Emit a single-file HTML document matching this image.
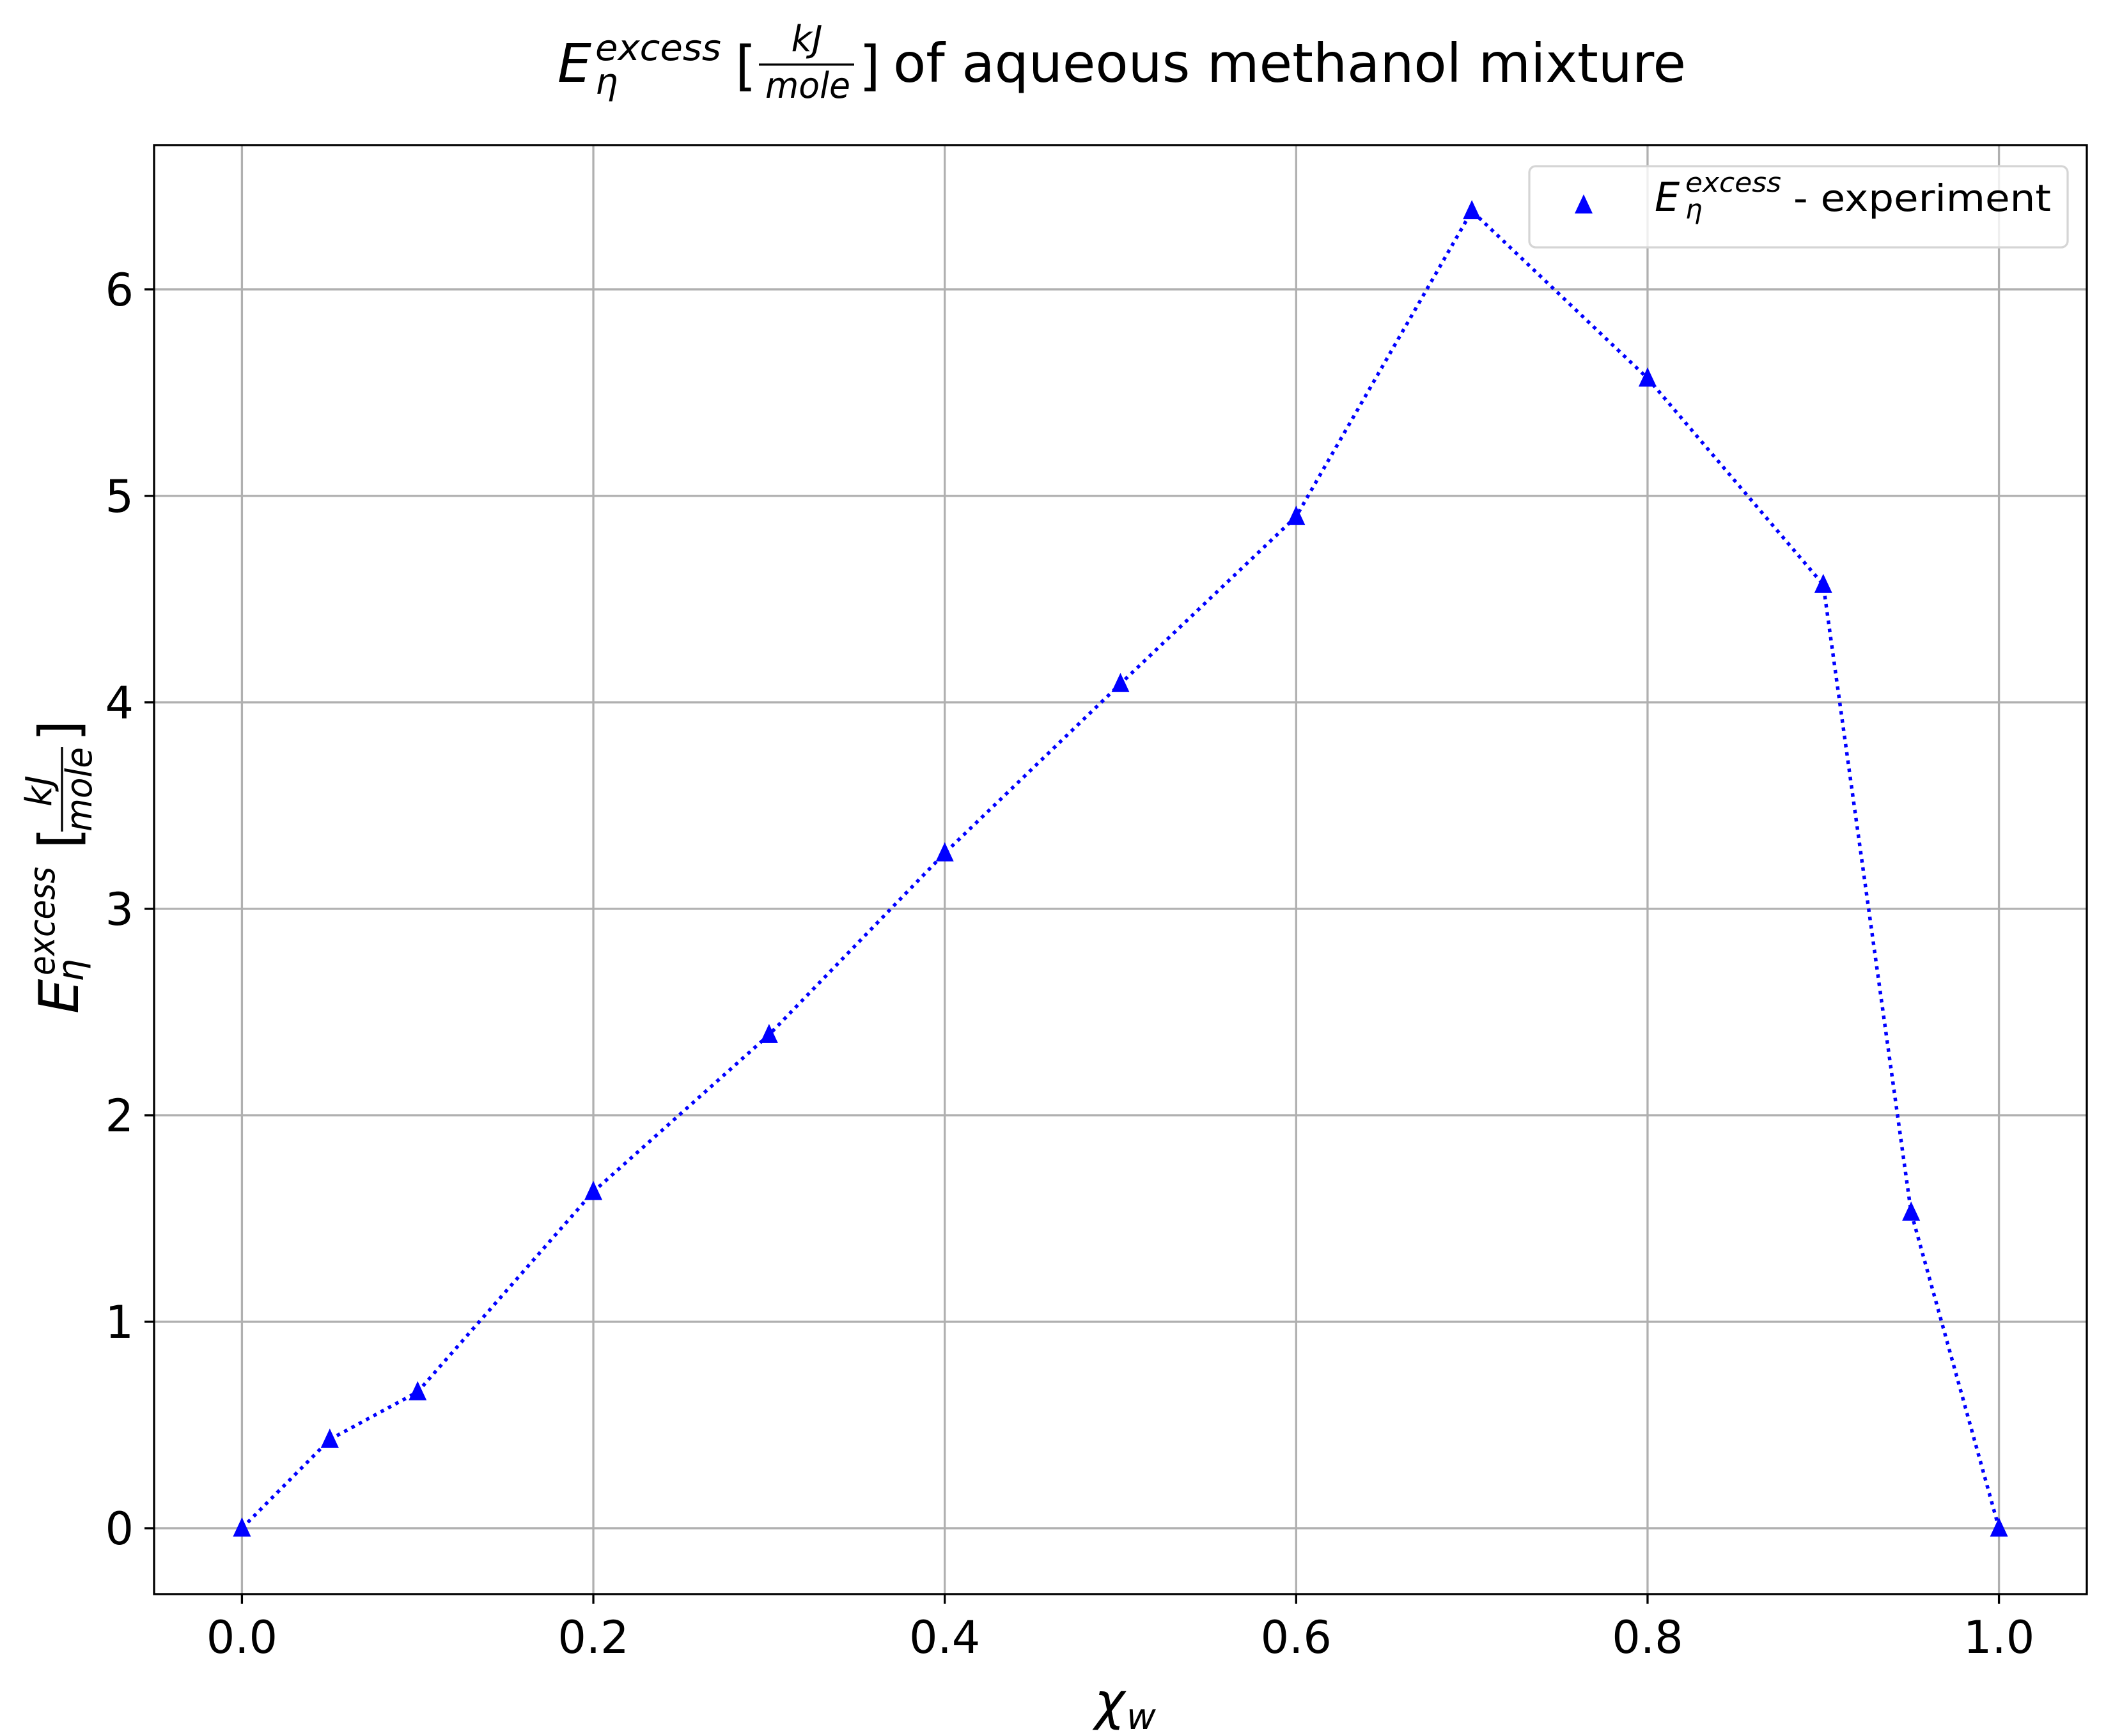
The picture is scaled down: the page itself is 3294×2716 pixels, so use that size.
<!DOCTYPE html>
<html><head><meta charset="utf-8"><style>
html,body{margin:0;padding:0;background:#fff;}
svg{display:block;font-family:"DejaVu Sans","Liberation Sans",sans-serif;}
</style></head><body>
<svg id="chart" width="3294" height="2716" viewBox="0 0 3294 2716" xmlns="http://www.w3.org/2000/svg">
<rect x="0" y="0" width="3294" height="2716" fill="#fff"/>
<g id="grid"></g>
<g id="series"></g>
<rect x="241" y="227" width="3023" height="2267" fill="none" stroke="#000" stroke-width="3.3"/>
<g id="ticks"></g>
<g>
<text x="872" y="128" font-size="84" font-style="italic">E</text>
<text x="931" y="94" font-size="56" font-style="italic" textLength="197" lengthAdjust="spacingAndGlyphs">excess</text>
<text x="931" y="147" font-size="56" font-style="italic">η</text>
<text x="1150" y="132" font-size="84">[</text>
<text x="1262" y="80" font-size="56" font-style="italic" text-anchor="middle">kJ</text>
<line x1="1187" y1="101" x2="1336" y2="101" stroke="#000" stroke-width="3.3"/>
<text x="1197" y="153" font-size="56" font-style="italic" textLength="133" lengthAdjust="spacingAndGlyphs">mole</text>
<text x="1344" y="132" font-size="84">]</text>
<text x="1397" y="128" font-size="84" textLength="1240" lengthAdjust="spacingAndGlyphs">of aqueous methanol mixture</text>
</g>
<g>
<text x="1712" y="2690" font-size="80" font-style="italic">χ</text>
<text x="1762" y="2705" font-size="56" font-style="italic">w</text>
</g>
<g>
<text transform="translate(122,1586) rotate(-90)" font-size="86" font-style="italic">E</text>
<text transform="translate(85,1526) rotate(-90)" font-size="56" font-style="italic" textLength="170" lengthAdjust="spacingAndGlyphs">excess</text>
<text transform="translate(130,1536) rotate(-90)" font-size="56" font-style="italic">η</text>
<text transform="translate(122,1328) rotate(-90)" font-size="86">[</text>
<text transform="translate(80,1262) rotate(-90)" font-size="56" font-style="italic">kJ</text>
<line x1="97" y1="1169" x2="97" y2="1301" stroke="#000" stroke-width="3.3"/>
<text transform="translate(143,1301) rotate(-90)" font-size="56" font-style="italic" textLength="132" lengthAdjust="spacingAndGlyphs">mole</text>
<text transform="translate(122,1160) rotate(-90)" font-size="86">]</text>
</g>
<g>
<rect x="2392" y="260" width="842" height="127" rx="10" fill="#fff" fill-opacity="0.8" stroke="#d5d5d5" stroke-width="3.3"/>
<polygon points="2477,304 2491,334 2463,334" fill="#0000ff"/>
<text x="2588" y="330" font-size="62" font-style="italic">E</text>
<text x="2636" y="300" font-size="42" font-style="italic" textLength="150" lengthAdjust="spacingAndGlyphs">excess</text>
<text x="2636" y="342" font-size="42" font-style="italic">η</text>
<text x="2805" y="330" font-size="58" textLength="403" lengthAdjust="spacingAndGlyphs">- experiment</text>
</g>
</svg>
<script>
const xValues=[0,0.05,0.1,0.2,0.3,0.4,0.5,0.6,0.7,0.8,0.9,0.95,1.0];
const yValues=[0,0.43,0.66,1.63,2.39,3.27,4.09,4.90,6.38,5.57,4.57,1.53,0];
const xTicks=[0,0.2,0.4,0.6,0.8,1.0];
const xTickLabels=["0.0","0.2","0.4","0.6","0.8","1.0"];
const yTicks=[0,1,2,3,4,5,6];
const yTickLabels=["0","1","2","3","4","5","6"];
const L=241,R=3264,T=227,B=2494,x0=-0.05,x1=1.05,y0=-0.319,y1=6.699;
const sx=v=>L+(v-x0)/(x1-x0)*(R-L);
const sy=v=>B-(v-y0)/(y1-y0)*(B-T);
const NS="http://www.w3.org/2000/svg";
const grid=document.getElementById('grid'),ticks=document.getElementById('ticks'),series=document.getElementById('series');
function mk(tag,attrs,parent){const e=document.createElementNS(NS,tag);for(const k in attrs)e.setAttribute(k,attrs[k]);parent.appendChild(e);return e;}
xTicks.forEach((v,i)=>{
  const g=mk('line',{x1:sx(v),x2:sx(v),y1:T,y2:B,stroke:'#b0b0b0','stroke-width':3.3},grid);
  
  
  const t=mk('line',{x1:sx(v),x2:sx(v),y1:B,y2:B+15,stroke:'#000','stroke-width':3.3},ticks);
  
  
  const l=mk('text',{x:sx(v),y:B+92,'font-size':70,'text-anchor':'middle'},ticks);
  l.textContent=xTickLabels[i];
  
  
});
yTicks.forEach((v,i)=>{
  const g=mk('line',{x1:L,x2:R,y1:sy(v),y2:sy(v),stroke:'#b0b0b0','stroke-width':3.3},grid);
  
  
  const t=mk('line',{x1:L-15,x2:L,y1:sy(v),y2:sy(v),stroke:'#000','stroke-width':3.3},ticks);
  
  
  const l=mk('text',{x:L-32,y:sy(v)+25,'font-size':70,'text-anchor':'end'},ticks);
  l.textContent=yTickLabels[i];
  
  
});
const pts=xValues.map((x,i)=>sx(x)+','+sy(yValues[i])).join(' ');
const line=mk('polyline',{points:pts,fill:'none',stroke:'#0000ff','stroke-width':5.5,'stroke-dasharray':'5.5 7.5'},series);


xValues.forEach((x,i)=>{
  const cx=sx(x),cy=sy(yValues[i]);
  const p=mk('polygon',{points:`${cx},${cy-17} ${cx+14},${cy+13} ${cx-14},${cy+13}`,fill:'#0000ff'},series);
  
  
});
</script>
</body></html>
